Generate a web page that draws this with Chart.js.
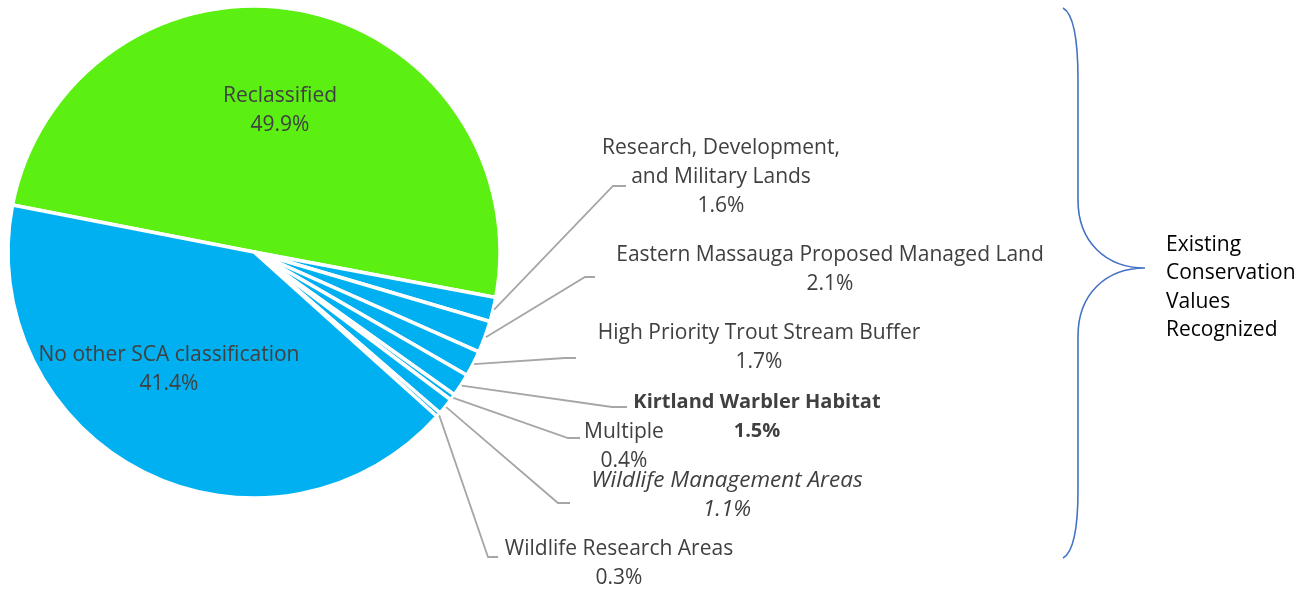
<!DOCTYPE html>
<html>
<head>
<meta charset="utf-8">
<script src="https://cdn.jsdelivr.net/npm/chart.js@4.4.1/dist/chart.umd.min.js"></script>
<style>
  html, body { margin: 0; padding: 0; background: #fff; }
  #wrap { width: 1311px; height: 592px; position: relative; }
</style>
</head>
<body>
<div id="wrap"><canvas id="myChart"></canvas></div>
<script>
// values (percent of total)
const categories = [
  'Reclassified',
  'Research, Development,\nand Military Lands',
  'Eastern Massauga Proposed Managed Land',
  'High Priority Trout Stream Buffer',
  'Kirtland Warbler Habitat',
  'Multiple',
  'Wildlife Management Areas',
  'Wildlife Research Areas',
  'No other SCA classification',
];
const shares = [49.9, 1.6, 2.1, 1.7, 1.5, 0.4, 1.1, 0.3, 41.4];
const braceText = ['Existing', 'Conservation', 'Values', 'Recognized'];

const GREEN = '#5bef12';
const BLUE = '#00b0f0';
const LABEL_COLOR = '#404040';
const LEADER_COLOR = '#a6a6a6';
const FONT = '"Open Sans", "DejaVu Sans", sans-serif';

// where each label sits (text centre of first line) and the leader elbow
const labelLayout = [
  { x: 280, y: 96, inside: true },
  { x: 721, y: 148, elbow: [613, 186], end: [626, 186] },
  { x: 830, y: 255, elbow: [585, 277], end: [595, 277] },
  { x: 759, y: 333, elbow: [565, 358], end: [576, 358] },
  { x: 757, y: 402, elbow: [612, 407], end: [627, 407], weight: 'bold', size: 20 },
  { x: 624, y: 432, elbow: [568, 438], end: [580, 438] },
  { x: 727, y: 481, elbow: [558, 503], end: [570, 503], style: 'italic', size: 22.5 },
  { x: 619, y: 549, elbow: [488, 557], end: [498, 557] },
  { x: 169, y: 355, inside: true },
];

const labelPlugin = {
  id: 'pieLabels',
  afterDatasetsDraw(chart) {
    const ctx = chart.ctx;
    const meta = chart.getDatasetMeta(0);
    ctx.save();
    meta.data.forEach((arc, i) => {
      const lay = labelLayout[i];
      const p = arc.getProps(['x', 'y', 'startAngle', 'endAngle', 'outerRadius'], true);
      if (!lay.inside) {
        const mid = (p.startAngle + p.endAngle) / 2;
        const r = p.outerRadius + 1;
        ctx.strokeStyle = LEADER_COLOR;
        ctx.lineWidth = 1.8;
        ctx.beginPath();
        ctx.moveTo(p.x + Math.cos(mid) * r, p.y + Math.sin(mid) * r);
        ctx.lineTo(lay.elbow[0], lay.elbow[1]);
        ctx.lineTo(lay.end[0], lay.end[1]);
        ctx.stroke();
      }
      const lines = categories[i].split('\n');
      lines.push(shares[i].toFixed(1) + '%');
      ctx.font = (lay.style || 'normal') + ' ' + (lay.weight || 'normal') + ' ' + (lay.size || 21) + 'px ' + FONT;
      ctx.fillStyle = LABEL_COLOR;
      ctx.textAlign = 'center';
      ctx.textBaseline = 'middle';
      lines.forEach((t, k) => {
        ctx.fillText(t, lay.x, lay.y + k * 29);
      });
    });
    ctx.restore();
  },
};

const bracePlugin = {
  id: 'brace',
  afterDraw(chart) {
    const ctx = chart.ctx;
    ctx.save();
    ctx.strokeStyle = '#4472c4';
    ctx.lineWidth = 1.6;
    ctx.beginPath();
    ctx.moveTo(1063, 8);
    ctx.bezierCurveTo(1074, 14, 1078, 40, 1078, 80);
    ctx.lineTo(1078, 200);
    ctx.bezierCurveTo(1078, 242, 1106, 268, 1145, 268);
    ctx.moveTo(1145, 268);
    ctx.bezierCurveTo(1106, 268, 1078, 294, 1078, 336);
    ctx.lineTo(1078, 490);
    ctx.bezierCurveTo(1078, 528, 1074, 552, 1063, 558);
    ctx.stroke();

    ctx.font = '21px ' + FONT;
    ctx.fillStyle = '#000';
    ctx.textAlign = 'left';
    ctx.textBaseline = 'middle';
    braceText.forEach((t, k) => ctx.fillText(t, 1166, 245 + k * 28.5));
    ctx.restore();
  },
};

const chartConfig = {
  type: 'pie',
  data: {
    labels: categories,
    datasets: [
      {
        data: shares,
        backgroundColor: shares.map((v, i) => (i === 0 ? GREEN : BLUE)),
        borderColor: '#fff',
        borderWidth: 3.5,
        radius: 246,
      },
    ],
  },
  options: {
    responsive: true,
    maintainAspectRatio: false,
    animation: false,
    rotation: -79,
    layout: {
      padding: { left: 8, top: 6, right: 811, bottom: 94 },
    },
    plugins: {
      legend: { display: false },
      tooltip: { enabled: false },
    },
  },
  plugins: [labelPlugin, bracePlugin],
};

const myChart = new Chart(document.getElementById('myChart'), chartConfig);
</script>
</body>
</html>
